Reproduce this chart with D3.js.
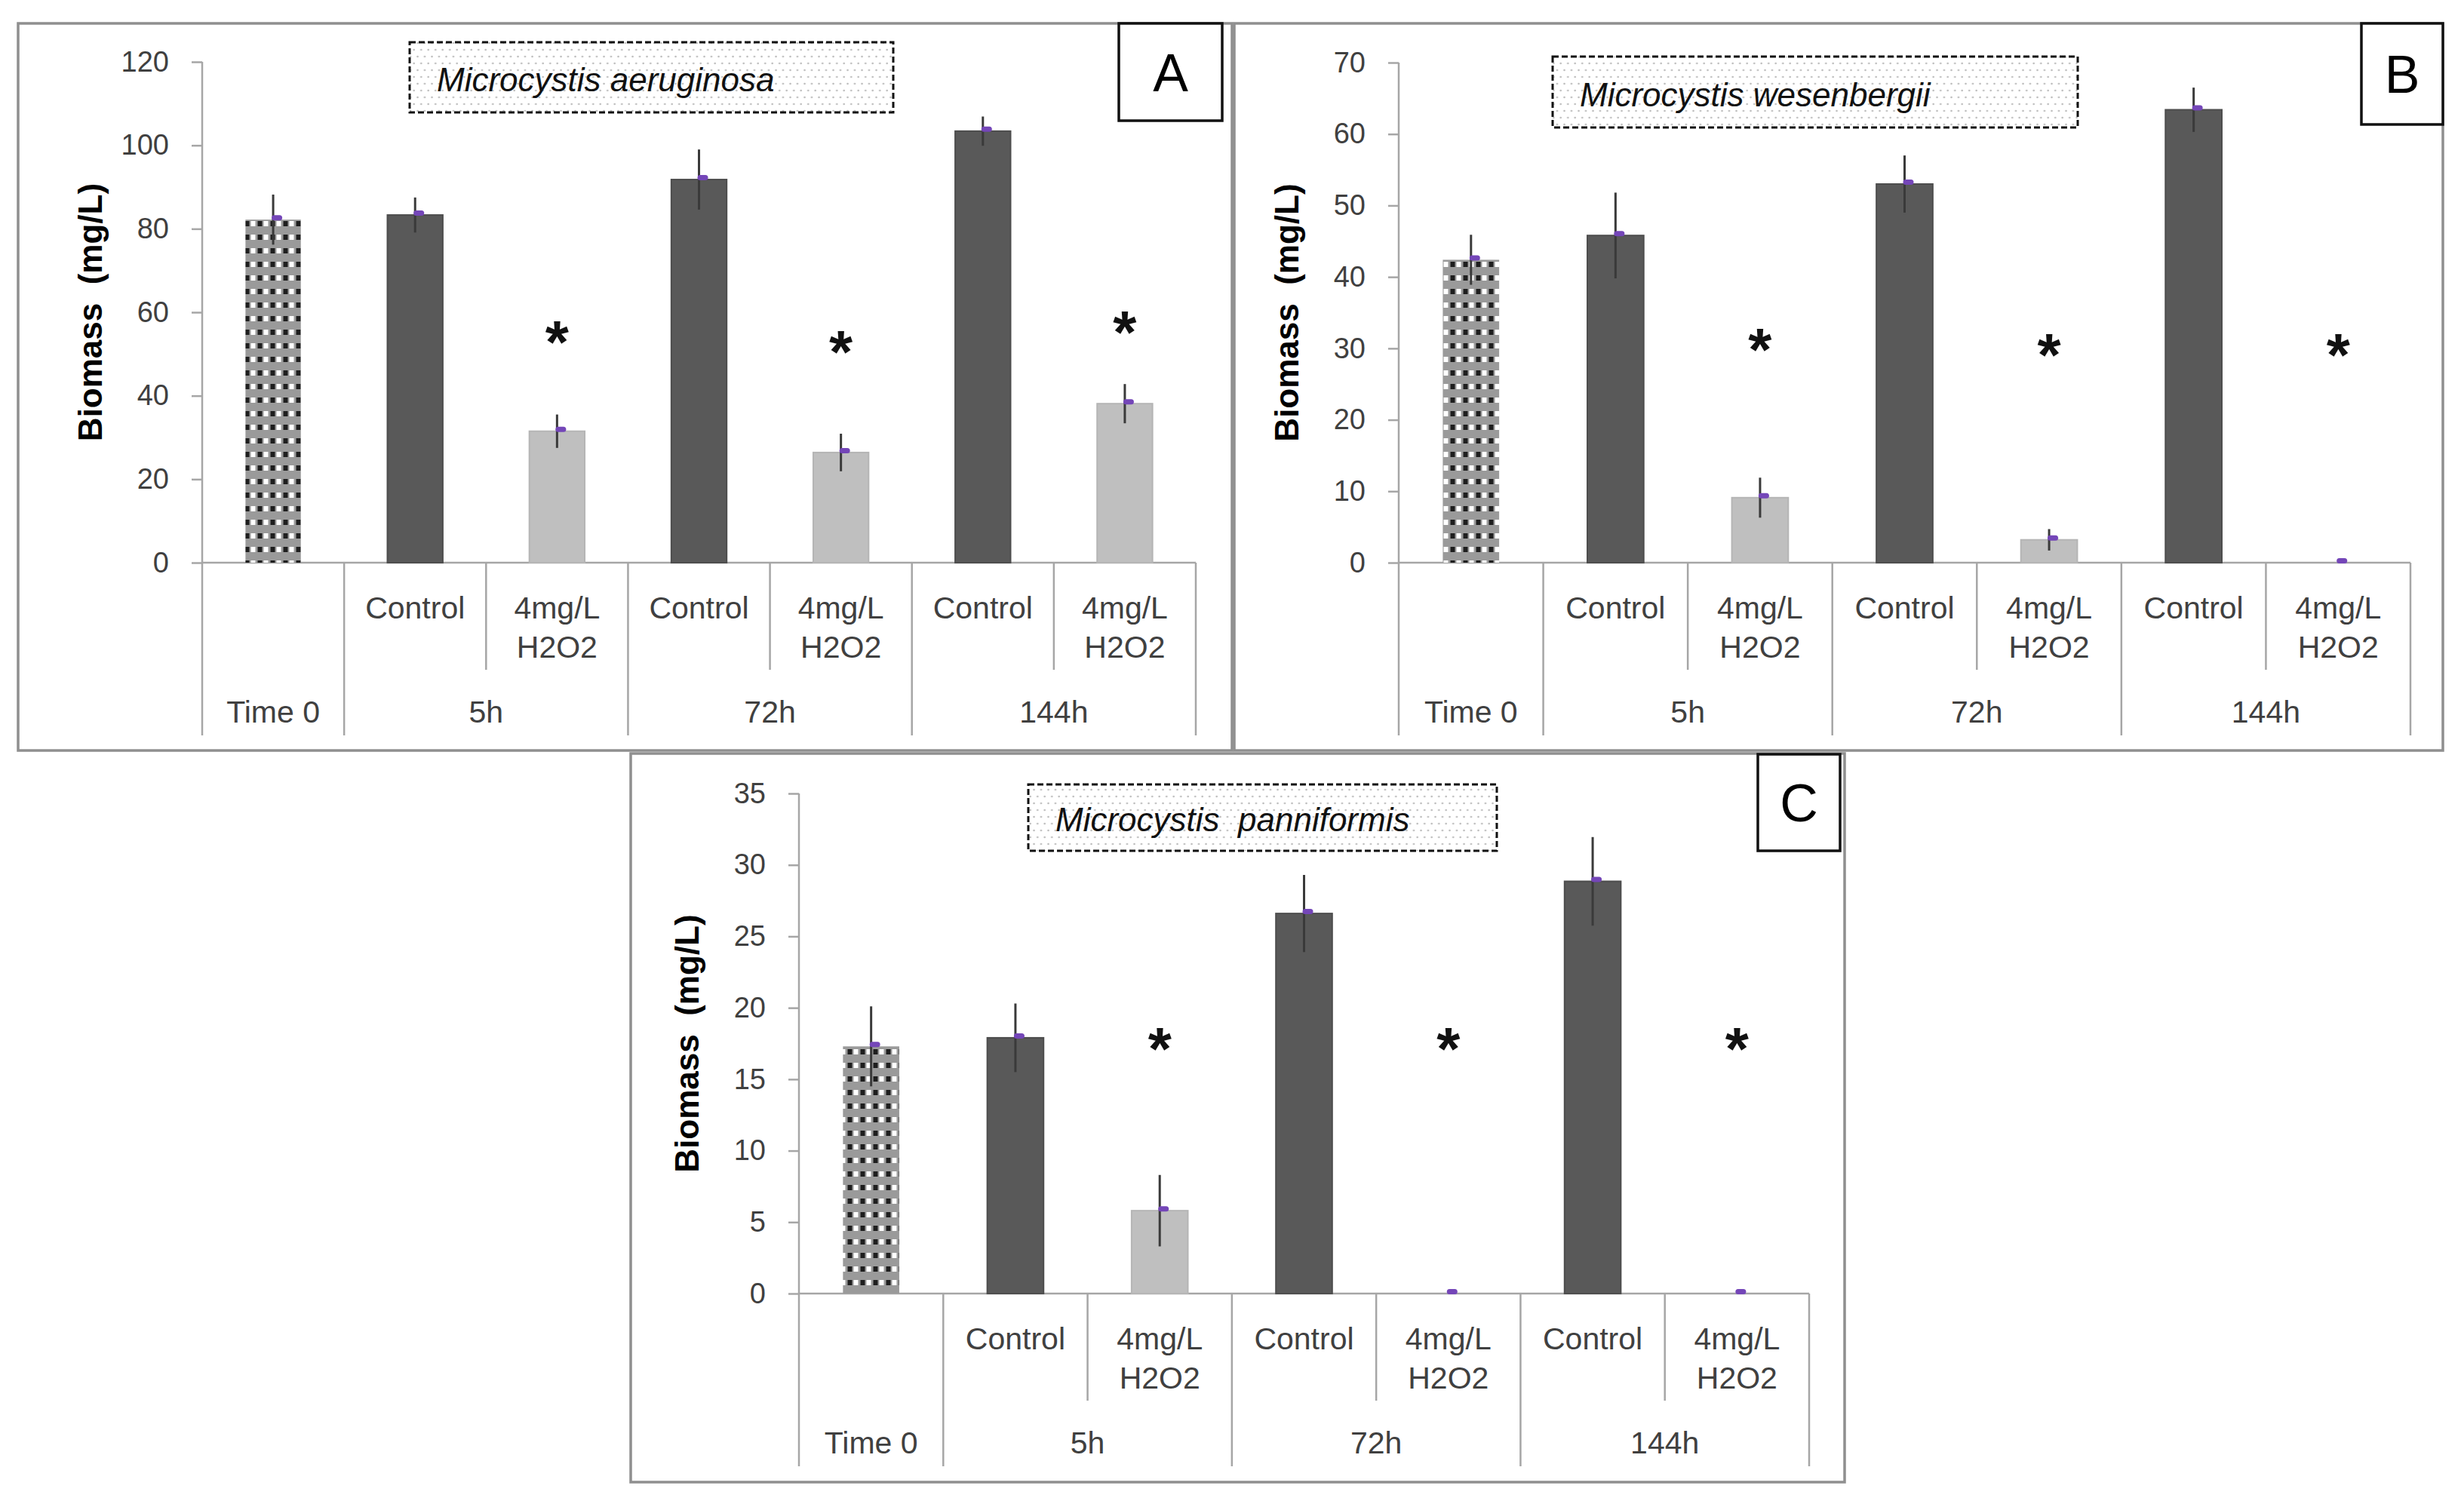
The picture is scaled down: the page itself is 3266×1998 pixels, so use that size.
<!DOCTYPE html>
<html>
<head>
<meta charset="utf-8">
<script src="https://cdn.jsdelivr.net/npm/d3@7"></script>
<style>
html, body { margin: 0; padding: 0; background: #fff; }
svg { display: block; }
text { font-family: "Liberation Sans", Arial, sans-serif; }
</style>
</head>
<body>
<svg class="myChart" width="3266" height="1998"></svg>
<script>
// data
const categories = ["Time 0", "Control", "4mg/L H2O2", "Control", "4mg/L H2O2", "Control", "4mg/L H2O2"];
const groups = ["Time 0", "5h", "72h", "144h"];
const groupSpans = [1, 2, 2, 2];
const species = ["Microcystis aeruginosa", "Microcystis wesenbergii", "Microcystis  panniformis"];
const panelLetters = ["A", "B", "C"];
const yLabel = "Biomass  (mg/L)";

const ticksA = [0, 20, 40, 60, 80, 100, 120];
const meansA = [82.2, 83.3, 31.5, 91.8, 26.4, 103.4, 38.1];
const errA = [6, 4.2, 4, 7.2, 4.5, 3.5, 4.7];
const starsA = [55.8, 53.5, 58.2];

const ticksB = [0, 10, 20, 30, 40, 50, 60, 70];
const meansB = [42.4, 45.8, 9.1, 53, 3.2, 63.4, 0];
const errB = [3.5, 6, 2.8, 4, 1.5, 3.1, 0];
const starsB = [31.6, 30.8, 30.8];

const ticksC = [0, 5, 10, 15, 20, 25, 30, 35];
const meansC = [17.3, 17.9, 5.8, 26.6, 0, 28.85, 0];
const errC = [2.8, 2.4, 2.5, 2.7, 0, 3.1, 0];
const starsC = [18, 18, 18];

const svg = d3.select('svg.myChart');

// patterns
const defs = svg.append('defs');
const chk = defs.append('pattern').attr('id', 'checks')
  .attr('patternUnits', 'userSpaceOnUse').attr('width', 17).attr('height', 18);
chk.append('rect').attr('width', 17).attr('height', 18).attr('fill', '#9a9a9a');
chk.append('rect').attr('x', 1.5).attr('y', 5).attr('width', 6).attr('height', 7).attr('fill', '#1e1e1e');
chk.append('rect').attr('x', 9.5).attr('y', 5).attr('width', 6).attr('height', 7).attr('fill', '#ffffff');

const dots = defs.append('pattern').attr('id', 'dots')
  .attr('patternUnits', 'userSpaceOnUse').attr('width', 9.5).attr('height', 18);
dots.append('rect').attr('width', 9.5).attr('height', 18).attr('fill', '#fff');
dots.append('circle').attr('cx', 2.5).attr('cy', 3).attr('r', 1.3).attr('fill', '#bdbdbd');
dots.append('circle').attr('cx', 7.25).attr('cy', 12).attr('r', 1.3).attr('fill', '#bdbdbd');

const panels = [
  {letter: panelLetters[0], title: species[0], means: meansA, errs: errA, stars: starsA, ticks: ticksA,
   frame: [24, 31, 1633, 995], plot: [268, 1585, 82, 746], tbox: [543, 56, 1184, 149], lbox: [1483, 31, 1620, 160]},
  {letter: panelLetters[1], title: species[1], means: meansB, errs: errB, stars: starsB, ticks: ticksB,
   frame: [1636, 31, 3238, 995], plot: [1854, 3195, 83, 746], tbox: [2058, 75, 2754, 169], lbox: [3130, 31, 3238, 165]},
  {letter: panelLetters[2], title: species[2], means: meansC, errs: errC, stars: starsC, ticks: ticksC,
   frame: [836, 999, 2445, 1965], plot: [1059, 2398, 1052, 1715], tbox: [1363, 1040, 1984, 1128], lbox: [2330, 1000, 2439, 1128]}
];

const axisGray = '#a6a6a6';
const labelColor = '#404040';

const render = p => {
  const [fx0, fy0, fx1, fy1] = p.frame;
  const [x0, x1, yTop, y0] = p.plot;

  svg.append('rect')
    .attr('x', fx0).attr('y', fy0).attr('width', fx1 - fx0).attr('height', fy1 - fy0)
    .attr('fill', '#fff').attr('stroke', '#8f8f8f').attr('stroke-width', 3.5);

  const idx = categories.map((c, i) => i);
  const xScale = d3.scaleBand().domain(idx).range([x0, x1]).paddingInner(0.61).paddingOuter(0.305);
  const yScale = d3.scaleLinear().domain([0, d3.max(p.ticks)]).range([y0, yTop]);
  const step = xScale.step();
  const cx = i => xScale(i) + xScale.bandwidth() / 2;

  const rows = p.means.map((m, i) => ({i: i, mean: m, err: p.errs[i]}));

  // y axis
  const yAxis = d3.axisLeft(yScale).tickValues(p.ticks).tickSize(14).tickSizeOuter(0).tickPadding(30);
  const ga = svg.append('g').attr('transform', `translate(${x0},0)`).call(yAxis);
  ga.select('.domain').remove();
  ga.selectAll('.tick line').attr('stroke', axisGray).attr('stroke-width', 2.5);
  ga.selectAll('.tick text').attr('fill', labelColor).attr('font-size', 38)
    .attr('font-family', '"Liberation Sans", Arial, sans-serif');

  // x axis baseline
  svg.append('line').attr('x1', x0).attr('x2', x1).attr('y1', y0).attr('y2', y0)
    .attr('stroke', axisGray).attr('stroke-width', 2.5);

  // separators of the category table
  const full = [0];
  groupSpans.reduce((a, s) => { full.push(a + s); return a + s; }, 0);
  d3.range(categories.length + 1).forEach(i => {
    const x = x0 + i * step;
    const isFull = full.includes(i);
    svg.append('line').attr('x1', x).attr('x2', x)
      .attr('y1', i === 0 ? yTop : y0).attr('y2', y0 + (isFull ? 229 : 142))
      .attr('stroke', axisGray).attr('stroke-width', 2.5);
  });

  // bars
  svg.selectAll(null).data(rows).enter().append('rect')
    .attr('x', d => xScale(d.i))
    .attr('y', d => yScale(d.mean))
    .attr('width', xScale.bandwidth())
    .attr('height', d => y0 - yScale(d.mean))
    .attr('fill', d => d.i === 0 ? 'url(#checks)' : (d.i % 2 === 1 ? '#595959' : '#bfbfbf'))
    .attr('stroke', d => d.i === 0 ? 'none' : (d.i % 2 === 1 ? '#4d4d4d' : '#b5b5b5'))
    .attr('stroke-width', 2);

  // error bars
  svg.selectAll(null).data(rows.filter(d => d.err > 0)).enter().append('line')
    .attr('x1', d => cx(d.i)).attr('x2', d => cx(d.i))
    .attr('y1', d => yScale(d.mean + d.err))
    .attr('y2', d => yScale(Math.max(0, d.mean - d.err)))
    .attr('stroke', '#3a3a3a').attr('stroke-width', 3);

  // small purple mean markers
  svg.selectAll(null).data(rows).enter().append('rect')
    .attr('x', d => cx(d.i) - 2)
    .attr('y', d => yScale(d.mean) - 6)
    .attr('width', 14).attr('height', 7).attr('rx', 3.5)
    .attr('fill', '#7446b8');

  // significance stars
  const treated = idx.filter(i => i > 0 && i % 2 === 0);
  svg.selectAll(null).data(treated).enter().append('text')
    .attr('x', i => cx(i))
    .attr('y', (i, k) => yScale(p.stars[k]) + 44)
    .attr('text-anchor', 'middle')
    .attr('font-size', 80).attr('font-weight', 'bold').attr('fill', '#111')
    .text('*');

  // category labels
  categories.forEach((c, i) => {
    if (i === 0) return;
    const lines = c.split(' ');
    lines.forEach((ln, k) => {
      svg.append('text').attr('x', cx(i)).attr('y', y0 + 74 + k * 52)
        .attr('text-anchor', 'middle').attr('font-size', 41).attr('fill', labelColor).text(ln);
    });
  });
  let acc = 0;
  groups.forEach((g, k) => {
    const mid = x0 + (acc + groupSpans[k] / 2) * step;
    acc += groupSpans[k];
    svg.append('text').attr('x', mid).attr('y', y0 + 212)
      .attr('text-anchor', 'middle').attr('font-size', 41).attr('fill', labelColor).text(g);
  });

  // y axis title
  svg.append('text')
    .attr('transform', `translate(${x0 - 133},${(y0 + yTop) / 2}) rotate(-90)`)
    .attr('text-anchor', 'middle').attr('font-size', 44).attr('font-weight', 'bold')
    .attr('fill', '#000').style('white-space', 'pre').text(yLabel);

  // species box
  const [tx0, ty0, tx1, ty1] = p.tbox;
  svg.append('rect').attr('x', tx0).attr('y', ty0).attr('width', tx1 - tx0).attr('height', ty1 - ty0)
    .attr('fill', 'url(#dots)').attr('stroke', '#111').attr('stroke-width', 3)
    .attr('stroke-dasharray', '8,4');
  svg.append('text').attr('x', tx0 + 36).attr('y', ty0 + (ty1 - ty0) * 0.7)
    .attr('font-size', 44).attr('font-style', 'italic').attr('fill', '#111')
    .style('white-space', 'pre').text(p.title);

  // panel letter
  const [lx0, ly0, lx1, ly1] = p.lbox;
  svg.append('rect').attr('x', lx0).attr('y', ly0).attr('width', lx1 - lx0).attr('height', ly1 - ly0)
    .attr('fill', '#fff').attr('stroke', '#111').attr('stroke-width', 3.5);
  svg.append('text').attr('x', (lx0 + lx1) / 2).attr('y', (ly0 + ly1) / 2 + 25)
    .attr('text-anchor', 'middle').attr('font-size', 70).attr('fill', '#000').text(p.letter);
};

panels.forEach(render);
</script>
</body>
</html>
